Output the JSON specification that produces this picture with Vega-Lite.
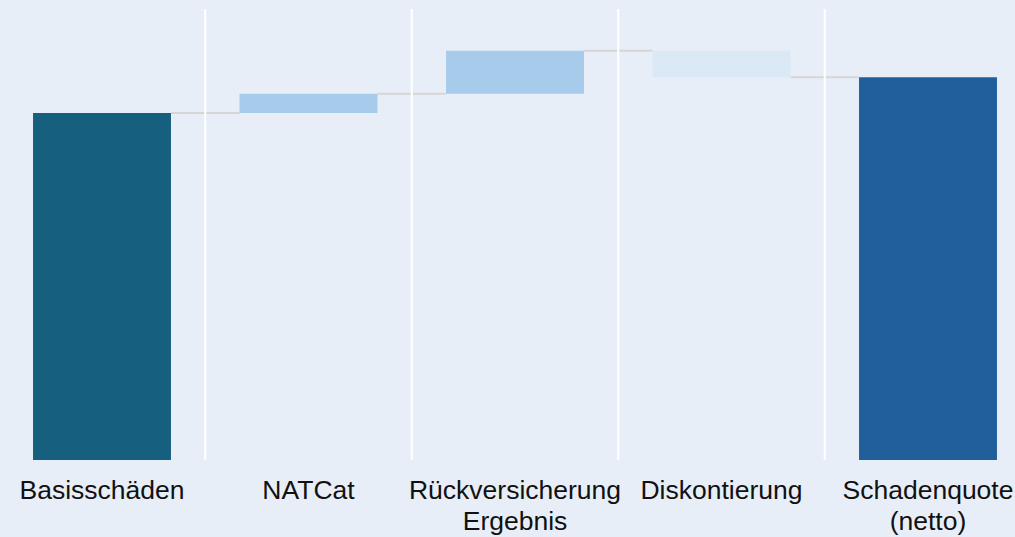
{
  "$schema": "https://vega.github.io/schema/vega-lite/v6.json",
  "autosize": "none",
  "width": 1015,
  "height": 451,
  "padding": {"left": 0, "top": 9, "right": 0, "bottom": 77},
  "background": "#E8EEF7",
  "config": {
    "view": {"stroke": null, "fill": "#E8EEF7"},
    "font": "Liberation Sans"
  },
  "data": {
    "values": [
      {"k": "Basisschäden", "start": 0, "end": 63.1, "next": "NATCat"},
      {"k": "NATCat", "start": 63.1, "end": 66.6, "next": "Rückversicherung Ergebnis"},
      {"k": "Rückversicherung Ergebnis", "start": 66.6, "end": 74.4, "next": "Diskontierung"},
      {"k": "Diskontierung", "start": 74.4, "end": 69.6, "next": "Schadenquote (netto)"},
      {"k": "Schadenquote (netto)", "start": 0, "end": 69.6, "next": null}
    ]
  },
  "encoding": {
    "x": {
      "field": "k",
      "type": "nominal",
      "sort": null,
      "scale": {"range": [-1.25, 1031.25], "paddingInner": 0.332, "paddingOuter": 0.166},
      "axis": {
        "title": null,
        "domain": false,
        "ticks": false,
        "grid": false,
        "labelAngle": 0,
        "labelFont": "Liberation Sans",
        "labelFontSize": 26.5,
        "labelColor": "#111111",
        "labelPadding": 17,
        "labelLimit": 0,
        "labelOverlap": false,
        "labelLineHeight": 31,
        "labelBaseline": "top",
        "labelExpr": "datum.value == 'Rückversicherung Ergebnis' ? ['Rückversicherung','Ergebnis'] : datum.value == 'Schadenquote (netto)' ? ['Schadenquote','(netto)'] : datum.value"
      }
    }
  },
  "layer": [
    {
      "transform": [{"filter": "datum.next != null"}],
      "mark": {"type": "rule", "color": "#D6D6D6", "strokeWidth": 2},
      "encoding": {
        "x": {"field": "k", "type": "nominal", "sort": null, "bandPosition": 1},
        "x2": {"field": "next", "bandPosition": 0},
        "y": {"field": "end", "type": "quantitative", "scale": {"domain": [0, 82], "nice": false, "zero": true}, "axis": null}
      }
    },
    {
      "mark": {"type": "rule", "color": "#FFFFFF", "strokeWidth": 2, "xOffset": -34.28},
      "encoding": {
        "x": {"field": "k", "type": "nominal", "sort": null, "bandPosition": 0}
      }
    },
    {
      "mark": {"type": "bar"},
      "encoding": {
        "y": {"field": "start", "type": "quantitative", "scale": {"domain": [0, 82], "nice": false}, "axis": null},
        "y2": {"field": "end"},
        "color": {
          "field": "k",
          "type": "nominal",
          "scale": {
            "domain": ["Basisschäden", "NATCat", "Rückversicherung Ergebnis", "Diskontierung", "Schadenquote (netto)"],
            "range": ["#165F7F", "#A7CBEB", "#A7CBEB", "#DBE8F5", "#215F9A"]
          },
          "legend": null
        }
      }
    }
  ]
}
